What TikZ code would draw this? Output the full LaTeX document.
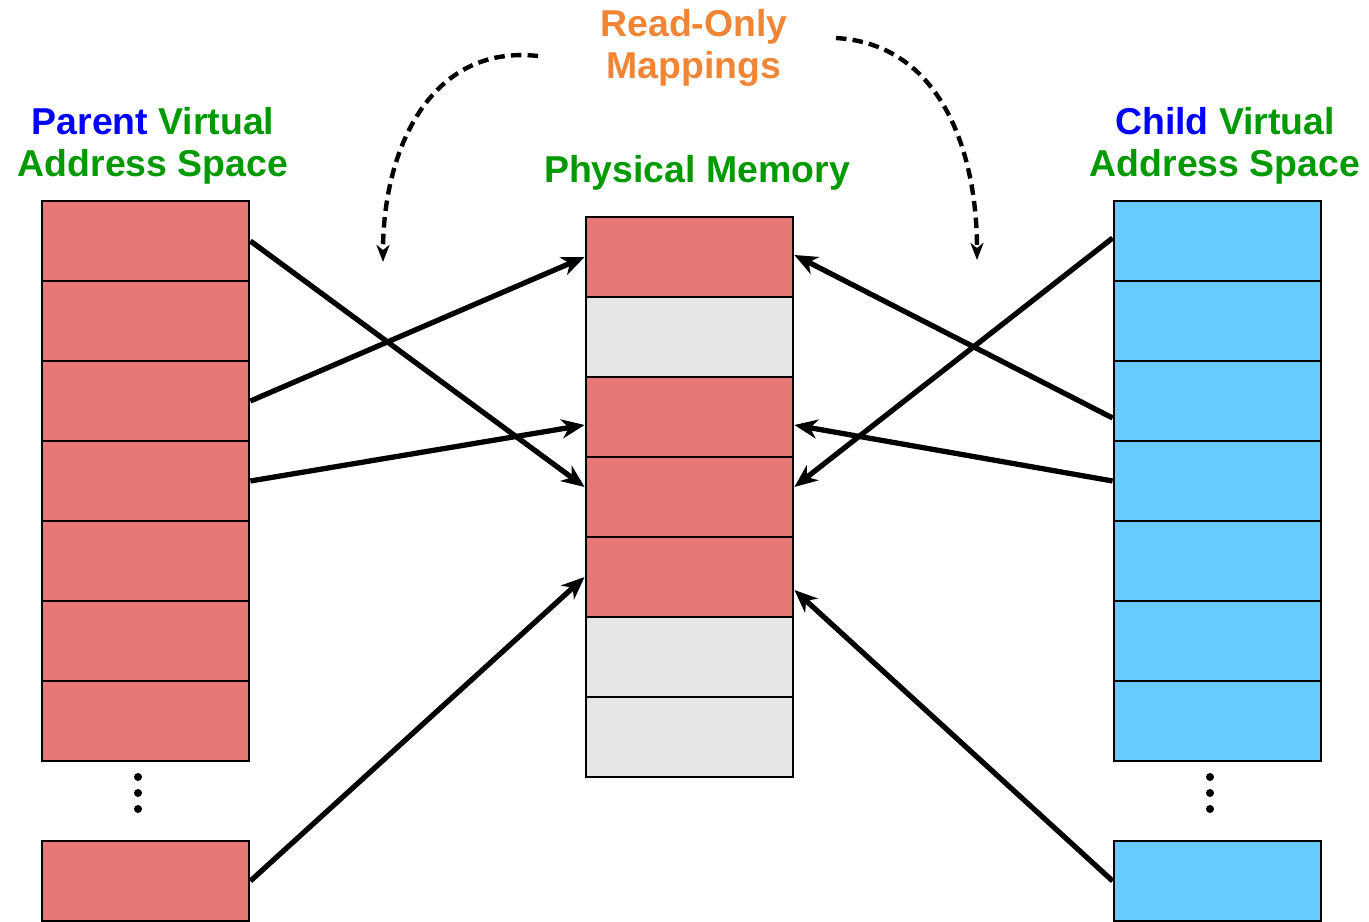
\documentclass[tikz,border=0pt]{standalone}
\usepackage{fontspec}
\setmainfont{Liberation Sans}
\usetikzlibrary{arrows.meta}

\definecolor{cellred}{HTML}{E67775}
\definecolor{cellgray}{HTML}{E6E6E6}
\definecolor{cellblue}{HTML}{66CCFF}
\definecolor{txtblue}{HTML}{0000FF}
\definecolor{txtgreen}{HTML}{009900}
\definecolor{txtorange}{HTML}{F08535}

\begin{document}
\begin{tikzpicture}[x=0.02cm,y=-0.02cm,
  cell/.style={draw,line width=1.6pt,minimum width=4.14cm,minimum height=1.6cm,inner sep=0pt},
  title/.style={font=\bfseries\fontsize{21.3}{24}\selectfont,align=center,text=txtgreen},
  map/.style={line width=3pt,-{Stealth[length=0.46cm,width=0.38cm,inset=0.14cm]}},
  ro/.style={line width=2.5pt,dash pattern=on 6pt off 3.5pt,-{Stealth[length=0.34cm,width=0.26cm,inset=0.1cm]}}]
  \useasboundingbox (0,0) rectangle (1369,922);
  % titles
  \node[title] (ptitle) at (153,146) {\textcolor{txtblue}{Parent} Virtual\\Address Space};
  \node[title] (ctitle) at (1225,146) {\textcolor{txtblue}{Child} Virtual\\Address Space};
  \node[title] (mtitle) at (697,173) {Physical Memory};
  \node[title,text=txtorange] (rotitle) at (694,48) {Read-Only\\Mappings};
  % parent pages
  \foreach \i in {1,...,7} \node[cell,fill=cellred] (p\i) at (145.5,{161+80*\i}) {};
  \node[cell,fill=cellred] (pb) at (145.5,881) {};
  % physical frames
  \foreach \i/\c in {1/cellred,2/cellgray,3/cellred,4/cellred,5/cellred,6/cellgray,7/cellgray}
    \node[cell,fill=\c] (m\i) at (689.5,{177+80*\i}) {};
  % child pages
  \foreach \i in {1,...,7} \node[cell,fill=cellblue] (c\i) at (1217.5,{161+80*\i}) {};
  \node[cell,fill=cellblue] (cb) at (1217.5,881) {};
  % dots
  \foreach \y in {777,793,809} {
    \fill (138,\y) circle (4);
    \fill (1210,\y) circle (4);
  }
  % mappings
  \draw[map] (p1.east) -- ([yshift=0.2cm]m4.west);
  \draw[map] (p3.east) -- (m1.west);
  \draw[map] (p4.east) -- ([yshift=-0.16cm]m3.west);
  \draw[map] (pb.east) -- (m5.west);
  \draw[map] ([yshift=0.06cm]c1.west) -- ([yshift=0.2cm]m4.east);
  \draw[map] ([yshift=-0.34cm]c3.west) -- ([yshift=0.04cm]m1.east);
  \draw[map] (c4.west) -- ([yshift=-0.16cm]m3.east);
  \draw[map] (cb.west) -- ([yshift=-0.26cm]m5.east);
  % read-only curves
  \coordinate (rol) at (383,262);
  \coordinate (ror) at (977,260);
  \draw[ro] ([xshift=-3.12cm,yshift=-0.16cm]rotitle.center) .. controls (430,44) and (383,150) .. (rol);
  \draw[ro] ([xshift=2.84cm,yshift=0.2cm]rotitle.center) .. controls (940,44) and (977,150) .. (ror);
\end{tikzpicture}
\end{document}
